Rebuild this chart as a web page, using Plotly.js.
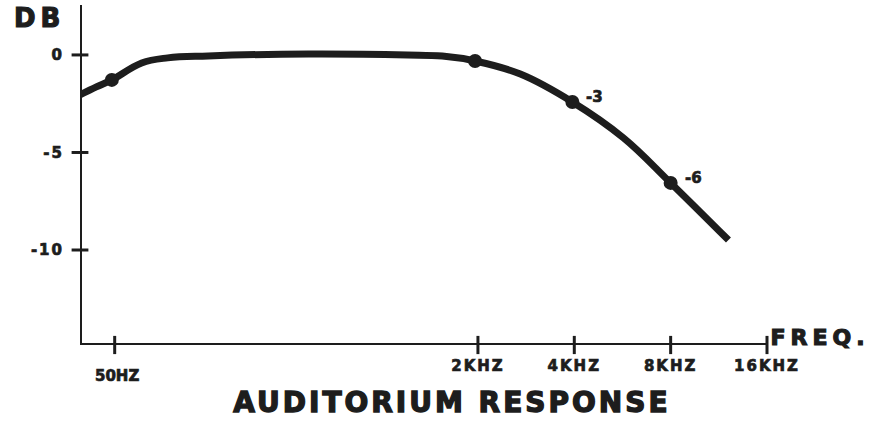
<!DOCTYPE html>
<html>
<head>
<meta charset="utf-8">
<script src="https://cdn.plot.ly/plotly-3.0.1.min.js"></script>
<style>
  html, body { margin: 0; padding: 0; background: #ffffff; }
  #chart { width: 886px; height: 421px; }
  .xtick text, .ytick text { letter-spacing: 2px; stroke: #1d1d1d; stroke-width: 0.7px; }
  .gtitle { letter-spacing: 3px; stroke: #1d1d1d; stroke-width: 1.4px; }
  .annotation-text { stroke: #1d1d1d; stroke-width: 0.7px; }
  .annotation-text.wide { letter-spacing: 5px; stroke-width: 1.2px; }
</style>
</head>
<body>
<div id="chart"></div>
<script>
// ---- data (x in octaves relative to 2 kHz, drawing's own spacing) ----
const tickPos   = [-3.77, 0, 1, 2, 3];
const tickText  = ['50HZ', '2KHZ', '4KHZ', '8KHZ', '16KHZ'];
const dbTicks   = [0, -5, -10];
const dbText    = ['0', '-5', '-10'];
const curveX    = [-4.13, -3.96, -3.80, -3.49, -3.22, -2.80, -1.76, -0.73, -0.37, -0.03, 0.44, 0.98, 1.51, 2.00, 2.60];
const curveY    = [-2.05, -1.64, -1.28, -0.41, -0.15, -0.05, 0.05, 0.00, -0.06, -0.31, -0.98, -2.41, -4.25, -6.56, -9.49];
const pointX    = [-3.80, -0.03, 0.98, 2.00];
const pointY    = [-1.28, -0.31, -2.41, -6.56];
const pointText = ['', '', '-3', '-6'];
const xMin = -4.13, xMax = 3;
const yMin = -14.87, yMax = 2.56;

const ink = '#1d1d1d';
const FONT = 'DejaVu Sans, Liberation Sans, sans-serif';

const traces = [
  { // axes
    x: [xMin, xMin, xMax], y: [yMax, yMin, yMin],
    mode: 'lines', line: { color: ink, width: 4 },
    cliponaxis: false, hoverinfo: 'skip', showlegend: false
  },
  { // x tick marks
    x: tickPos, y: tickPos.map(() => yMin),
    mode: 'markers', marker: { symbol: 'line-ns', size: 13, line: { color: ink, width: 3 } },
    cliponaxis: false, showlegend: false
  },
  { // y tick marks
    x: dbTicks.map(() => xMin), y: dbTicks,
    mode: 'markers', marker: { symbol: 'line-ew', size: 12, line: { color: ink, width: 3 } },
    cliponaxis: false, showlegend: false
  },
  { // response curve
    x: curveX, y: curveY,
    mode: 'lines', line: { color: ink, width: 7, shape: 'spline', smoothing: 1.1 },
    cliponaxis: false, showlegend: false
  },
  { // dots
    x: pointX, y: pointY,
    mode: 'markers', marker: { color: ink, size: 14 },
    cliponaxis: false, showlegend: false
  }
];

const annotations = [
  { x: tickPos[0], y: yMin, xref: 'x', yref: 'y', text: tickText[0], showarrow: false,
    xanchor: 'center', yanchor: 'top', yshift: -20, xshift: 2,
    font: { family: FONT, size: 15, color: ink, weight: 'bold' } },
  { x: xMax, y: yMin, xref: 'x', yref: 'y', text: 'FREQ.', showarrow: false,
    xanchor: 'left', yanchor: 'middle', xshift: 14, yshift: 8,
    font: { family: FONT, size: 22, color: ink, weight: 'bold' } },
  { x: xMin, y: yMax, xref: 'x', yref: 'y', text: 'DB', showarrow: false,
    xanchor: 'right', yanchor: 'middle', xshift: -18, yshift: -13,
    font: { family: FONT, size: 26, color: ink, weight: 'bold' } }
];
pointX.forEach((px, i) => {
  if (pointText[i]) {
    annotations.push({ x: px, y: pointY[i], xref: 'x', yref: 'y', text: pointText[i], showarrow: false,
      xanchor: 'left', yanchor: 'middle', xshift: 12, yshift: 5,
      font: { family: FONT, size: 15, color: ink, weight: 'bold' } });
  }
});

const layout = {
  width: 886, height: 421,
  paper_bgcolor: '#ffffff', plot_bgcolor: '#ffffff',
  margin: { l: 80, r: 119, t: 5, b: 76 },
  showlegend: false,
  font: { family: FONT, color: ink },
  title: {
    text: 'AUDITORIUM RESPONSE',
    font: { family: FONT, size: 28, color: ink, weight: 'bold' },
    x: 0.51, xanchor: 'center', xref: 'container',
    y: 0.045, yanchor: 'middle', yref: 'container'
  },
  xaxis: {
    range: [xMin, xMax], showgrid: false, zeroline: false, showline: false,
    tickvals: tickPos.slice(1), ticktext: tickText.slice(1), ticks: '',
    ticklabelstandoff: 10,
    tickfont: { family: FONT, size: 15, color: ink, weight: 'bold' },
    fixedrange: true
  },
  yaxis: {
    range: [yMin, yMax], showgrid: false, zeroline: false, showline: false,
    tickvals: dbTicks, ticktext: dbText, ticks: '',
    ticklabelstandoff: 15,
    tickfont: { family: FONT, size: 15, color: ink, weight: 'bold' },
    fixedrange: true
  },
  annotations: annotations
};

Plotly.newPlot('chart', traces, layout, { staticPlot: true, displayModeBar: false }).then(() => {
  document.querySelectorAll('.annotation-text').forEach(t => {
    const s = t.textContent;
    if (s === 'FREQ.' || s === 'DB') t.classList.add('wide');
  });
});
</script>
</body>
</html>
